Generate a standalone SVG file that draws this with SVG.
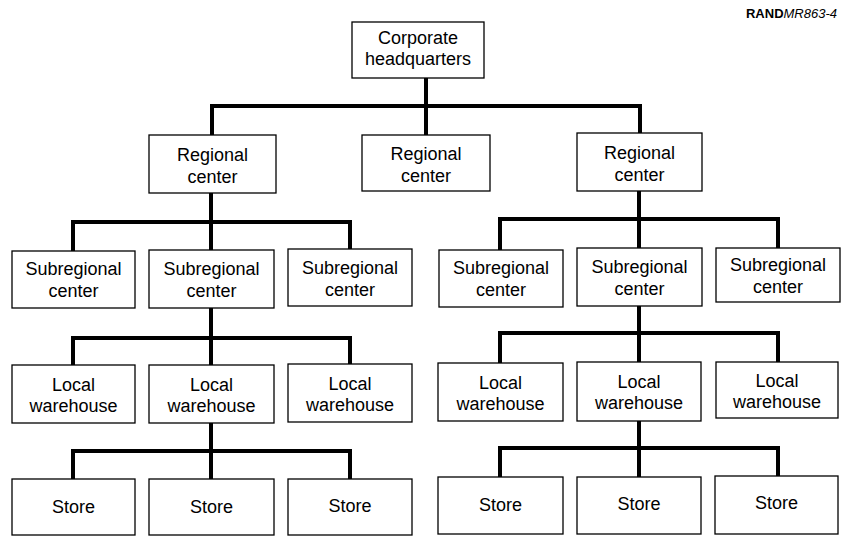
<svg xmlns="http://www.w3.org/2000/svg" width="841" height="536" viewBox="0 0 841 536">
<style>
.box{fill:#fff;stroke:#000;stroke-width:1.3}
.t{font-family:"Liberation Sans",Arial,sans-serif;font-size:18px;text-anchor:middle;fill:#000}
.c{fill:none;stroke:#000;stroke-width:4;stroke-linejoin:miter;stroke-linecap:square}
</style>
<rect width="841" height="536" fill="#fff"/>
<text x="837" y="18" font-family="Liberation Sans, Arial, sans-serif" font-size="13" text-anchor="end"><tspan font-weight="bold">RAND</tspan><tspan font-style="italic">MR863-4</tspan></text>
<g id="connectors">
<path class="c" d="M426 78V106M212 135V106H640V133M426 106V135"/>
<path class="c" d="M211 194V222M73 251V222H350V251M211 222V251"/>
<path class="c" d="M211 308V338M73 365V338H350V365M211 338V365"/>
<path class="c" d="M211 423V451M73 479V451H350V479M211 451V479"/>
<path class="c" d="M639 192V219M500 249V219H778V249M639 219V249"/>
<path class="c" d="M639 306V333M500 363V333H778V363M639 333V363"/>
<path class="c" d="M639 421V448M500 477V448H778V477M639 448V477"/>
</g>
<g id="hq"><rect class="box" x="352" y="22" width="132" height="56"/><text class="t" x="418" y="44">Corporate</text><text class="t" x="418" y="65">headquarters</text></g>
<g id="rc1"><rect class="box" x="149" y="135" width="127" height="58"/><text class="t" x="212.5" y="161">Regional</text><text class="t" x="212.5" y="183">center</text></g>
<g id="rc2"><rect class="box" x="362" y="135" width="128" height="56"/><text class="t" x="426" y="160">Regional</text><text class="t" x="426" y="182">center</text></g>
<g id="rc3"><rect class="box" x="577" y="133" width="125" height="58"/><text class="t" x="639.5" y="159">Regional</text><text class="t" x="639.5" y="181">center</text></g>
<g id="src1"><rect class="box" x="12" y="251" width="123" height="57"/><text class="t" x="73.5" y="275">Subregional</text><text class="t" x="73.5" y="297">center</text></g>
<g id="src2"><rect class="box" x="149" y="250" width="125" height="58"/><text class="t" x="211.5" y="275">Subregional</text><text class="t" x="211.5" y="297">center</text></g>
<g id="src3"><rect class="box" x="288" y="249" width="124" height="57"/><text class="t" x="350" y="274">Subregional</text><text class="t" x="350" y="296">center</text></g>
<g id="src4"><rect class="box" x="439" y="250" width="124" height="57"/><text class="t" x="501" y="274">Subregional</text><text class="t" x="501" y="296">center</text></g>
<g id="src5"><rect class="box" x="577" y="248" width="125" height="58"/><text class="t" x="639.5" y="273">Subregional</text><text class="t" x="639.5" y="295">center</text></g>
<g id="src6"><rect class="box" x="716" y="248" width="124" height="54"/><text class="t" x="778" y="271">Subregional</text><text class="t" x="778" y="293">center</text></g>
<g id="lw1"><rect class="box" x="12" y="365" width="123" height="58"/><text class="t" x="73.5" y="391">Local</text><text class="t" x="73.5" y="412">warehouse</text></g>
<g id="lw2"><rect class="box" x="149" y="365" width="125" height="58"/><text class="t" x="211.5" y="391">Local</text><text class="t" x="211.5" y="412">warehouse</text></g>
<g id="lw3"><rect class="box" x="288" y="364" width="124" height="58"/><text class="t" x="350" y="390">Local</text><text class="t" x="350" y="411">warehouse</text></g>
<g id="lw4"><rect class="box" x="438" y="363" width="125" height="58"/><text class="t" x="500.5" y="389">Local</text><text class="t" x="500.5" y="410">warehouse</text></g>
<g id="lw5"><rect class="box" x="577" y="362" width="124" height="59"/><text class="t" x="639" y="388">Local</text><text class="t" x="639" y="409">warehouse</text></g>
<g id="lw6"><rect class="box" x="716" y="362" width="122" height="56"/><text class="t" x="777" y="387">Local</text><text class="t" x="777" y="408">warehouse</text></g>
<g id="st1"><rect class="box" x="12" y="479" width="123" height="56"/><text class="t" x="73.5" y="513">Store</text></g>
<g id="st2"><rect class="box" x="149" y="479" width="125" height="56"/><text class="t" x="211.5" y="513">Store</text></g>
<g id="st3"><rect class="box" x="288" y="479" width="124" height="56"/><text class="t" x="350" y="512">Store</text></g>
<g id="st4"><rect class="box" x="438" y="477" width="125" height="57"/><text class="t" x="500.5" y="511">Store</text></g>
<g id="st5"><rect class="box" x="577" y="477" width="124" height="57"/><text class="t" x="639" y="510">Store</text></g>
<g id="st6"><rect class="box" x="715" y="476" width="123" height="58"/><text class="t" x="776.5" y="509">Store</text></g>
</svg>
